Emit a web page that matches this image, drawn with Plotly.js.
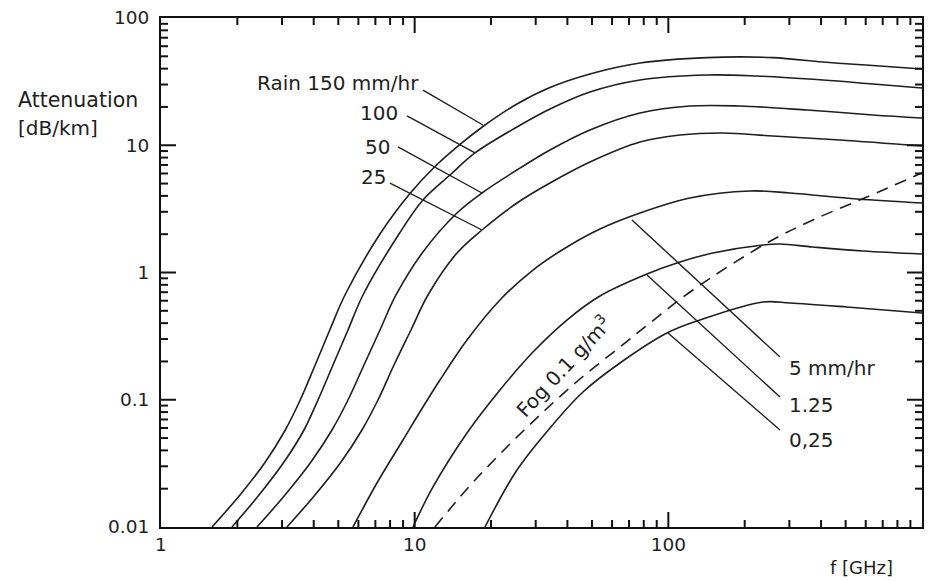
<!DOCTYPE html>
<html>
<head>
<meta charset="utf-8">
<script src="https://cdn.plot.ly/plotly-3.0.1.min.js"></script>
<style>html,body{margin:0;padding:0;background:#fff;}#chart{width:943px;height:581px;}</style>
</head>
<body>
<div id="chart"></div>
<script>
// Frequency f [GHz] and attenuation A [dB/km]
const rain150_f = [1.589, 2.048, 2.570, 3.082, 3.531, 4.046, 4.636, 5.313, 7.298, 9.583, 11.81, 15.09, 18.59, 25.31, 34.15, 49.09, 77.30, 141.9, 258.4, 406.7, 640.5, 1000];
const rain150_A = [0.01, 0.01785, 0.03213, 0.05732, 0.09865, 0.1859, 0.3565, 0.6657, 2.007, 4.176, 6.567, 10.14, 14.04, 21.10, 28.43, 36.30, 44.29, 48.85, 48.85, 45.10, 42.33, 39.73];

const rain100_f = [1.905, 2.434, 3.054, 3.662, 4.157, 4.764, 5.459, 6.256, 8.674, 10.78, 13.78, 17.29, 25.31, 34.15, 49.09, 77.30, 141.9, 223.5, 406.7, 640.5, 1000];
const rain100_A = [0.01, 0.01785, 0.03242, 0.05785, 0.09954, 0.1875, 0.3533, 0.6657, 2.007, 3.712, 5.837, 8.694, 13.91, 19.27, 26.21, 32.57, 35.66, 35.02, 32.57, 30.29, 28.18];

const rain50_f = [2.390, 3.082, 3.901, 4.721, 5.459, 6.313, 7.298, 8.442, 10.78, 14.68, 18.42, 25.31, 34.15, 49.09, 77.30, 121.7, 191.5, 351.8, 640.5, 1000];
const rain50_A = [0.01, 0.01785, 0.03242, 0.05785, 0.09954, 0.1875, 0.3533, 0.6657, 1.449, 2.935, 4.215, 6.391, 9.179, 13.18, 17.92, 20.34, 20.34, 18.92, 17.29, 16.37];

const rain25_f = [3.138, 4.046, 5.124, 6.198, 7.167, 8.288, 9.670, 11.28, 14.68, 18.42, 25.31, 34.15, 49.09, 77.30, 111.1, 164.2, 258.4, 474.8, 1000];
const rain25_A = [0.01, 0.01785, 0.03242, 0.05785, 0.09954, 0.1875, 0.3533, 0.6657, 1.423, 2.158, 3.517, 5.050, 7.385, 10.60, 12.04, 12.49, 11.82, 11.00, 9.865];

const rain5_f = [5.712, 7.102, 8.993, 10.78, 12.58, 16.08, 21.69, 29.27, 39.83, 53.76, 77.30, 121.7, 209.7, 301.5, 553.9, 1000];
const rain5_A = [0.01, 0.02217, 0.04829, 0.08770, 0.1429, 0.2947, 0.6081, 1.046, 1.586, 2.197, 2.935, 3.850, 4.371, 4.215, 3.781, 3.517];

const rain125_f = [9.847, 11.81, 16.08, 21.69, 29.27, 39.83, 53.76, 82.36, 111.1, 149.9, 236.0, 275.4, 371.5, 584.9, 1000];
const rain125_A = [0.01, 0.02063, 0.05479, 0.1193, 0.2373, 0.4233, 0.6536, 0.9732, 1.209, 1.423, 1.645, 1.675, 1.586, 1.476, 1.398];

const rain025_f = [18.93, 25.31, 34.15, 46.07, 64.46, 98.74, 133.2, 236.0, 301.5, 505.8, 1000];
const rain025_A = [0.01, 0.02804, 0.05998, 0.1150, 0.1944, 0.3346, 0.4233, 0.5865, 0.5760, 0.5356, 0.4805];

const fog_f = [12.02, 16.08, 21.69, 31.18, 44.83, 64.46, 84.64, 125.0, 244.7, 371.5, 606.5, 1000];
const fog_A = [0.01, 0.01989, 0.03748, 0.07590, 0.1456, 0.2598, 0.4011, 0.7288, 1.705, 2.586, 3.920, 6.052];

const xTickVals = [1, 10, 100, 1000];
const xTickText = ['1', '10', '100', '1000'];
const yTickVals = [0.01, 0.1, 1, 10, 100];
const yTickText = ['0.01', '0.1', '1', '10', '100'];
const minorDigits = [2, 3, 4, 5, 6, 7, 8, 9];

const rainLabels = ['Rain 150 mm/hr', '100', '50', '25', '5 mm/hr', '1.25', '0,25'];
const fogLabel = 'Fog 0.1 g/m<sup>3</sup>';

const FONT = 'DejaVu Sans, Liberation Sans, sans-serif';
const INK = '#1e1e1e';
const X_RANGE = [0, 3];
const Y_RANGE = [-2, 2];
const PLOT_W = 943 - 161 - 21;
const PLOT_H = 581 - 18 - 54;

const solid = {color: INK, width: 1.6, shape: 'spline', smoothing: 1};
const series = [
  [rain150_f, rain150_A], [rain100_f, rain100_A], [rain50_f, rain50_A], [rain25_f, rain25_A],
  [rain5_f, rain5_A], [rain125_f, rain125_A], [rain025_f, rain025_A]
];
const traces = series.map((s, i) => ({
  x: s[0], y: s[1], type: 'scatter', mode: 'lines', name: rainLabels[i],
  line: solid, hoverinfo: 'skip'
}));
traces.push({
  x: fog_f, y: fog_A, type: 'scatter', mode: 'lines', name: 'Fog',
  line: {color: INK, width: 1.6, dash: '12px,8px', shape: 'spline', smoothing: 1}, hoverinfo: 'skip'
});

// inside tick marks on all four sides, built from the tick arrays
const xMin = Math.pow(10, X_RANGE[0]), xMax = Math.pow(10, X_RANGE[1]);
const yMin = Math.pow(10, Y_RANGE[0]), yMax = Math.pow(10, Y_RANGE[1]);
const decX = PLOT_W / (X_RANGE[1] - X_RANGE[0]);
const decY = PLOT_H / (Y_RANGE[1] - Y_RANGE[0]);
const xMinor = [], yMinor = [];
xTickVals.slice(0, -1).forEach(d => minorDigits.forEach(k => xMinor.push(k * d)));
yTickVals.slice(0, -1).forEach(d => minorDigits.forEach(k => yMinor.push(k * d)));
const tx = [], ty = [];
function addX(vals, len) {
  const m = Math.pow(10, len / decY);
  vals.forEach(v => {
    tx.push(v, v, null, v, v, null);
    ty.push(yMin, yMin * m, null, yMax, yMax / m, null);
  });
}
function addY(vals, len) {
  const m = Math.pow(10, len / decX);
  vals.forEach(v => {
    tx.push(xMin, xMin * m, null, xMax, xMax / m, null);
    ty.push(v, v, null, v, v, null);
  });
}
addX(xTickVals.slice(1, -1), 15);
addX(xMinor, 7);
addY(yTickVals.slice(1, -1), 15);
addY(yMinor, 7);
traces.push({
  x: tx, y: ty, type: 'scatter', mode: 'lines', name: 'ticks', connectgaps: false,
  line: {color: '#111111', width: 2}, hoverinfo: 'skip', cliponaxis: false
});

// leader lines (paper coordinates)
const leaders = [
  [0.3443, 0.8585, 0.4231, 0.7898],
  [0.3233, 0.8075, 0.4126, 0.7348],
  [0.3114, 0.7466, 0.4218, 0.6562],
  [0.3009, 0.6758, 0.4218, 0.5835],
  [0.6189, 0.6031, 0.8134, 0.3340],
  [0.6386, 0.4951, 0.8134, 0.2554],
  [0.6662, 0.3811, 0.8134, 0.1906]
];
const shapes = leaders.map(l => ({
  type: 'line', xref: 'paper', yref: 'paper', x0: l[0], y0: l[1], x1: l[2], y1: l[3],
  line: {color: INK, width: 1.4}
}));

const lblFont = {family: FONT, size: 20, color: INK};
const labelPos = [
  [0.3417, 0.8723, 'right'],
  [0.3140, 0.8134, 'right'],
  [0.3035, 0.7466, 'right'],
  [0.2983, 0.6876, 'right'],
  [0.8226, 0.3124, 'left'],
  [0.8226, 0.2397, 'left'],
  [0.8226, 0.1709, 'left']
];
const annotations = labelPos.map((p, i) => ({
  xref: 'paper', yref: 'paper', x: p[0], y: p[1], xanchor: p[2], yanchor: 'middle',
  text: rainLabels[i], showarrow: false, font: lblFont
}));
annotations.push({
  xref: 'paper', yref: 'paper', x: 0.5283, y: 0.3163, xanchor: 'center', yanchor: 'middle',
  text: fogLabel, textangle: -47, showarrow: false, font: lblFont
});
annotations.push({
  xref: 'paper', yref: 'paper', x: -0.1905, y: 0.8388, xanchor: 'left', yanchor: 'middle',
  text: 'Attenuation', showarrow: false, font: {family: FONT, size: 20.5, color: INK}
});
annotations.push({
  xref: 'paper', yref: 'paper', x: -0.1905, y: 0.7839, xanchor: 'left', yanchor: 'middle',
  text: '[dB/km]', showarrow: false, font: {family: FONT, size: 20, color: INK}
});
annotations.push({
  xref: 'paper', yref: 'paper', x: 0.92, y: -0.0786, xanchor: 'center', yanchor: 'middle',
  text: 'f [GHz]', showarrow: false, font: {family: FONT, size: 18, color: INK}
});

const axisCommon = {
  type: 'log', showgrid: false, zeroline: false, showline: true, linecolor: '#111', linewidth: 2,
  mirror: true, ticks: '', tickmode: 'array', tickfont: {family: FONT, size: 18.5, color: INK}
};

const layout = {
  width: 943, height: 581,
  margin: {l: 161, r: 21, t: 18, b: 54},
  paper_bgcolor: '#ffffff', plot_bgcolor: '#ffffff',
  showlegend: false,
  xaxis: Object.assign({}, axisCommon, {range: X_RANGE, tickvals: xTickVals, ticktext: xTickText}),
  yaxis: Object.assign({}, axisCommon, {range: Y_RANGE, tickvals: yTickVals, ticktext: yTickText, ticklabelstandoff: 6}),
  shapes: shapes,
  annotations: annotations
};

Plotly.newPlot('chart', traces, layout, {staticPlot: true});
</script>
</body>
</html>
